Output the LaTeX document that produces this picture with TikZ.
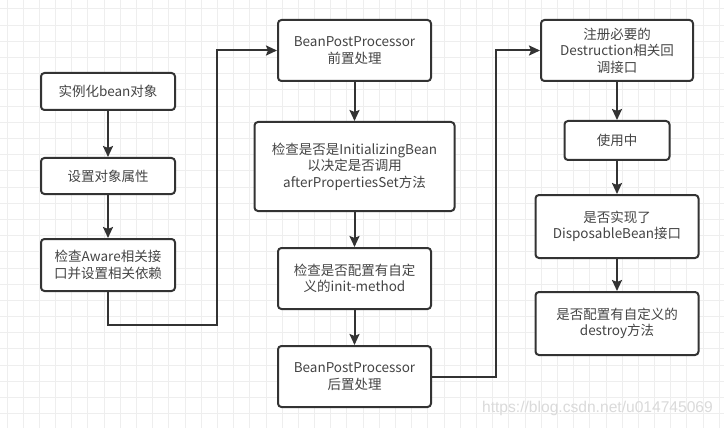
\documentclass[tikz,border=0pt]{standalone}
\usepackage{fontspec}
\setmainfont{Noto Sans CJK SC}
\newfontfamily\wmfont{Liberation Sans}
\usetikzlibrary{arrows.meta}
\definecolor{linec}{HTML}{333333}
\definecolor{textc}{HTML}{444444}
\definecolor{gridc}{HTML}{EEEEEE}
\definecolor{wmc}{HTML}{DADADA}
\tikzset{
  box/.style={draw=linec, line width=2pt, rounded corners=3.5pt, fill=white,
    align=center, inner sep=0pt, text=textc,
    font=\fontsize{13.5}{16.5}\selectfont},
  conn/.style={draw=linec, line width=2pt,
    -{Stealth[length=11pt,width=10pt,inset=2pt]}},
}
\begin{document}
\begin{tikzpicture}[x=1pt,y=-1pt]
\useasboundingbox (0,0) rectangle (724,428);
\fill[white] (0,0) rectangle (724,428);
\foreach \i in {0,...,44} {
  \draw[gridc, line width=1pt] ({7+16.19*\i},0) -- ({7+16.19*\i},428);
}
\foreach \j in {0,...,26} {
  \draw[gridc, line width=1pt] (0,{9+16.19*\j}) -- (724,{9+16.19*\j});
}
% column 1
\node[box, minimum width=134pt, minimum height=37pt] (b1) at (108,91.5) {实例化bean对象};
\node[box, minimum width=134pt, minimum height=36pt] (b2) at (108,176) {设置对象属性};
\node[box, minimum width=134pt, minimum height=52pt] (b3) at (108,265) {检查Aware相关接\\口并设置相关依赖};
% column 2
\node[box, minimum width=153pt, minimum height=61pt] (b4) at (354.5,50.5) {BeanPostProcessor\\前置处理};
\node[box, minimum width=200pt, minimum height=89pt] (b5) at (354.5,166.5) {检查是否是InitializingBean\\以决定是否调用\\afterPropertiesSet方法};
\node[box, minimum width=153pt, minimum height=61pt] (b6) at (354.5,278.5) {检查是否配置有自定\\义的init-method};
\node[box, minimum width=153pt, minimum height=61pt] (b7) at (354.5,376.5) {BeanPostProcessor\\后置处理};
% column 3
\node[box, minimum width=152pt, minimum height=61pt] (b8) at (617,50.5) {注册必要的\\Destruction相关回\\调接口};
\node[box, minimum width=105pt, minimum height=39pt] (b9) at (617,140.5) {使用中};
\node[box, minimum width=163pt, minimum height=63pt] (b10) at (617,226.5) {是否实现了\\DisposableBean接口};
\node[box, minimum width=163pt, minimum height=63pt] (b11) at (617,323.5) {是否配置有自定义的\\destroy方法};
% connectors
\coordinate (c1) at (217,325);
\coordinate (c2) at (496,376.5);
\draw[conn] (b1) -- (b2);
\draw[conn] (b2) -- (b3);
\draw[conn] (b3.south) |- (c1) |- (b4.west);
\draw[conn] (b4) -- (b5);
\draw[conn] (b5) -- (b6);
\draw[conn] (b6) -- (b7);
\draw[conn] (b7.east) -- (c2) |- (b8.west);
\draw[conn] (b8) -- (b9);
\draw[conn] (b9) -- (b10);
\draw[conn] (b10) -- (b11);
% watermark
\node[text=wmc, font=\wmfont\fontsize{15.6}{18}\selectfont, inner sep=0pt] (wm) at (597.5,408) {https://blog.csdn.net/u014745069};
\end{tikzpicture}
\end{document}
